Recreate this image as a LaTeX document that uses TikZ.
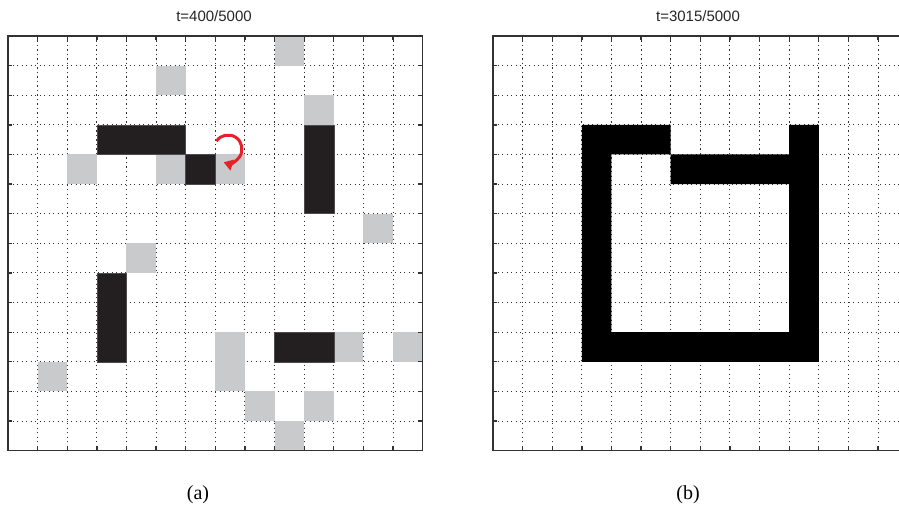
\documentclass[tikz,border=0pt]{standalone}
\usepackage{fontspec}
\setmainfont{Liberation Serif}
\setsansfont{Liberation Sans}
\usetikzlibrary{arrows.meta}
\definecolor{cellgray}{RGB}{201,202,204}
\definecolor{celldark}{RGB}{35,31,32}
\definecolor{framecol}{RGB}{50,50,50}
\definecolor{arrowred}{RGB}{232,32,42}
\tikzset{
  gridline/.style={draw=framecol, line width=1pt, dash pattern=on 1.1pt off 3.4pt},
  framebox/.style={draw=framecol, line width=1.3pt},
  tickline/.style={draw=framecol, line width=1.3pt},
  graycell/.style={fill=cellgray},
  darkcell/.style={fill=celldark, draw=black!70, line width=0.5pt},
  blackcell/.style={fill=black},
  titletext/.style={font=\sffamily\fontsize{15}{17}\selectfont, text=black!85, inner sep=0pt},
  captext/.style={font=\fontsize{20}{22}\selectfont, inner sep=0pt},
  turnarrow/.style={draw=arrowred, line width=3pt, -{Triangle[length=9pt,width=11pt]}}
}
\begin{document}
\begin{tikzpicture}
\useasboundingbox[fill=white] (0pt,0pt) rectangle (899pt,-508pt);

% ---------------- left panel ----------------
\begin{scope}[shift={(8pt,-36pt)}, x=29.62pt, y=-29.62pt]
  \foreach \i in {1,...,13} {
    \draw[gridline] (\i,0) -- (\i,14);
    \draw[gridline] (0,\i) -- (14,\i);
  }
  % gray cells
  \foreach \cx/\cy in {9/0,5/1,10/2,2/4,5/4,7/4,12/6,4/7,7/10,11/10,13/10,1/11,7/11,8/12,10/12,9/13}
    \fill[graycell] (\cx,\cy) rectangle ++(1,1);
  % dark blocks
  \filldraw[darkcell] (3,3) rectangle (6,4);
  \filldraw[darkcell] (6,4) rectangle (7,5);
  \filldraw[darkcell] (10,3) rectangle (11,6);
  \filldraw[darkcell] (3,8) rectangle (4,11);
  \filldraw[darkcell] (9,10) rectangle (11,11);
  % frame and ticks
  \draw[framebox] (0,0) rectangle (14,14);
  \foreach \i in {1,...,13} {
    \draw[tickline] (\i,0) -- ++(0,0.15);
    \draw[tickline] (\i,14) -- ++(0,-0.15);
    \draw[tickline] (0,\i) -- ++(0.15,0);
    \draw[tickline] (14,\i) -- ++(-0.15,0);
  }
\end{scope}

% rotation arrow
\draw[turnarrow] (228pt,-149pt) ++(146:14pt) arc[start angle=146, end angle=-108, radius=14pt];

% ---------------- right panel ----------------
\begin{scope}
  \clip (480pt,0pt) rectangle (899pt,-508pt);
  \begin{scope}[shift={(493pt,-36pt)}, x=29.62pt, y=-29.62pt]
    \foreach \i in {1,...,13} {
      \draw[gridline] (\i,0) -- (\i,14);
      \draw[gridline] (0,\i) -- (14,\i);
    }
    \fill[blackcell] (3,3) -- (6,3) -- (6,4) -- (4,4) -- (4,10) -- (10,10) -- (10,5) -- (6,5) -- (6,4) -- (10,4) -- (10,3) -- (11,3) -- (11,11) -- (3,11) -- cycle;
    \draw[framebox] (0,0) rectangle (14,14);
    \foreach \i in {1,...,13} {
      \draw[tickline] (\i,0) -- ++(0,0.15);
      \draw[tickline] (\i,14) -- ++(0,-0.15);
      \draw[tickline] (0,\i) -- ++(0.15,0);
    }
  \end{scope}
\end{scope}

% titles and captions
\node[titletext] (titleA) at (214pt,-16pt) {t=400/5000};
\node[titletext] (titleB) at (698pt,-16pt) {t=3015/5000};
\node[captext] (capA) at (198pt,-495pt) {(a)};
\node[captext] (capB) at (688pt,-495pt) {(b)};
\end{tikzpicture}
\end{document}
